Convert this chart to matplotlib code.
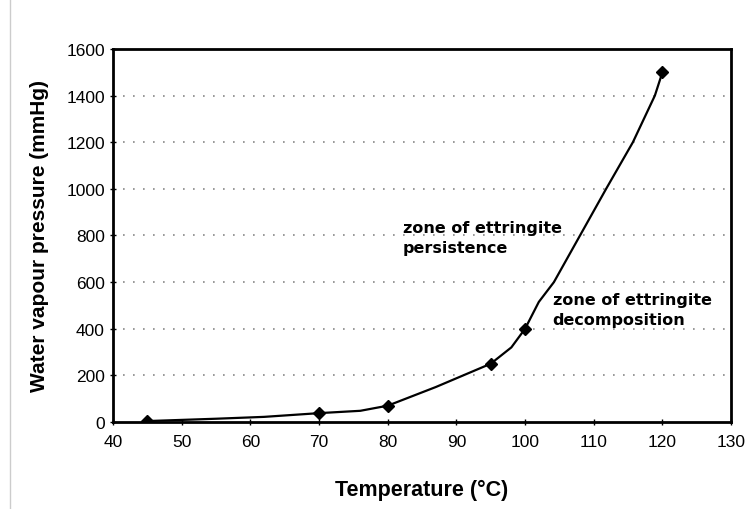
import matplotlib
matplotlib.use("Agg")
import matplotlib.pyplot as plt
from matplotlib.lines import Line2D

# measured points (with markers)
temp_pts = [45, 70, 80, 95, 100, 120]
pres_pts = [4, 38, 70, 250, 400, 1500]

# connecting line (no markers)
temp_line = [45, 55, 62, 70, 76, 80, 87, 95, 98, 100, 102, 104.2, 108, 111.8, 115.7, 118.9, 120]
pres_line = [4, 14, 22, 38, 48, 70, 150, 250, 320, 400, 515, 600, 800, 1000, 1200, 1400, 1500]

x_ticks = [40, 50, 60, 70, 80, 90, 100, 110, 120, 130]
y_ticks = [0, 200, 400, 600, 800, 1000, 1200, 1400, 1600]

plt.rcParams['font.family'] = ['Liberation Sans', 'DejaVu Sans']

fig = plt.figure(figsize=(7.54, 5.10), dpi=100)
ax = fig.add_axes([0.150, 0.1706, 0.8196, 0.7314])

for y in y_ticks[1:-1]:
    ax.axhline(y, color='#888888', linestyle=(0, (1, 5)), linewidth=1.2, zorder=1)

ax.plot(temp_line, pres_line, color='black', linewidth=1.6, zorder=3)
ax.plot(temp_pts, pres_pts, linestyle='none', marker='D', markersize=6,
        color='black', zorder=4)

ax.set_xlim(40, 130)
ax.set_ylim(0, 1600)
ax.set_xticks(x_ticks)
ax.set_yticks(y_ticks)
ax.tick_params(axis='both', labelsize=12.5, direction='inout', length=5, width=1)
ax.tick_params(axis='x', pad=6)
for s in ax.spines.values():
    s.set_linewidth(2)
    s.set_color('black')

ax.set_xlabel('Temperature (°C)', fontsize=15.5, fontweight='bold', labelpad=22)
ax.set_ylabel('Water vapour pressure (mmHg)', fontsize=15, fontweight='bold', labelpad=12)

ax.text(82.2, 865, 'zone of ettringite\npersistence', fontsize=11.5, va='top', ha='left',
        linespacing=1.4, family='DejaVu Sans', fontweight='bold')
ax.text(104.0, 558, 'zone of ettringite\ndecomposition', fontsize=11.5, va='top', ha='left',
        linespacing=1.4, family='DejaVu Sans', fontweight='bold')

fig.add_artist(Line2D([0.013, 0.013], [0.0, 1.0], color='#cccccc', linewidth=1))

fig.savefig('out.png', dpi=100)
